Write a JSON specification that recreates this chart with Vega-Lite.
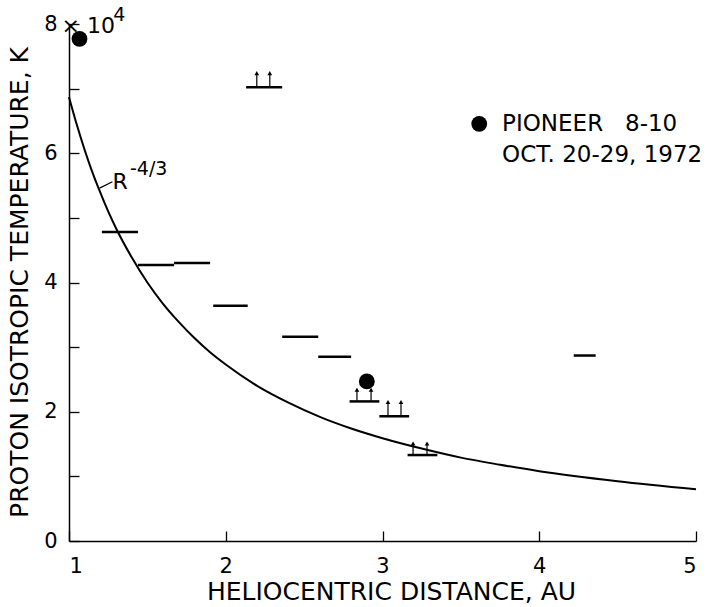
{
  "$schema": "https://vega.github.io/schema/vega-lite/v6.json",
  "width": 627,
  "height": 517,
  "autosize": {"type": "none"},
  "padding": {"left": 69, "top": 24, "right": 16, "bottom": 66},
  "background": "white",
  "config": {
    "view": {"stroke": null},
    "font": "DejaVu Sans",
    "text": {"font": "DejaVu Sans", "color": "black"},
    "axis": {
      "labelFont": "DejaVu Sans",
      "titleFont": "DejaVu Sans",
      "labelColor": "black",
      "titleColor": "black",
      "domainColor": "black",
      "tickColor": "black",
      "domainWidth": 1.5,
      "tickWidth": 1.3,
      "grid": false,
      "labelFontSize": 21,
      "titleFontSize": 25,
      "titleFontWeight": "normal"
    }
  },
  "datasets": {
    "curve": [
      {"x": 1.0, "y": 6.87}, {"x": 1.05, "y": 6.44}, {"x": 1.1, "y": 6.05}, {"x": 1.15, "y": 5.70},
      {"x": 1.2, "y": 5.39}, {"x": 1.25, "y": 5.10}, {"x": 1.3, "y": 4.84}, {"x": 1.4, "y": 4.39},
      {"x": 1.5, "y": 4.00}, {"x": 1.6, "y": 3.67}, {"x": 1.7, "y": 3.39}, {"x": 1.8, "y": 3.14},
      {"x": 1.9, "y": 2.92}, {"x": 2.0, "y": 2.73}, {"x": 2.2, "y": 2.40}, {"x": 2.4, "y": 2.14},
      {"x": 2.6, "y": 1.92}, {"x": 2.8, "y": 1.74}, {"x": 3.0, "y": 1.59}, {"x": 3.25, "y": 1.43},
      {"x": 3.5, "y": 1.29}, {"x": 3.75, "y": 1.18}, {"x": 4.0, "y": 1.08}, {"x": 4.5, "y": 0.925},
      {"x": 5.0, "y": 0.80}
    ],
    "segments": [
      {"x": 1.21, "x2": 1.44, "y": 4.78},
      {"x": 1.44, "x2": 1.67, "y": 4.27},
      {"x": 1.67, "x2": 1.90, "y": 4.30},
      {"x": 1.92, "x2": 2.14, "y": 3.64},
      {"x": 2.13, "x2": 2.36, "y": 7.02},
      {"x": 2.36, "x2": 2.59, "y": 3.16},
      {"x": 2.59, "x2": 2.80, "y": 2.85},
      {"x": 2.79, "x2": 2.98, "y": 2.16},
      {"x": 2.98, "x2": 3.17, "y": 1.93},
      {"x": 3.16, "x2": 3.35, "y": 1.33},
      {"x": 4.22, "x2": 4.36, "y": 2.87}
    ],
    "arrows": [
      {"x": 2.198, "y": 7.02, "y2": 7.24},
      {"x": 2.281, "y": 7.02, "y2": 7.24},
      {"x": 2.837, "y": 2.16, "y2": 2.34},
      {"x": 2.927, "y": 2.16, "y2": 2.34},
      {"x": 3.035, "y": 1.93, "y2": 2.15},
      {"x": 3.118, "y": 1.93, "y2": 2.15},
      {"x": 3.195, "y": 1.33, "y2": 1.51},
      {"x": 3.284, "y": 1.33, "y2": 1.51}
    ],
    "dots": [
      {"x": 1.067, "y": 7.77},
      {"x": 2.90, "y": 2.47},
      {"x": 3.617, "y": 6.455}
    ],
    "leader": [
      {"x": 1.195, "y": 5.46, "x2": 1.277, "y2": 5.56}
    ],
    "rlabel": [{"x": 1.278, "y": 5.449, "text": "R"}, {"x": 0.952, "y": 7.864, "text": "× 10"}],
    "suplabel": [{"x": 1.389, "y": 5.66, "text": "-4/3"}, {"x": 1.282, "y": 8.04, "text": "4"}],
    "legend": [
      {"x": 3.763, "y": 6.455, "text": "PIONEER\u00a0\u00a0 8-10"},
      {"x": 3.763, "y": 5.975, "text": "OCT. 20-29, 1972"}
    ]
  },
  "encoding": {
    "x": {
      "field": "x",
      "type": "quantitative",
      "scale": {"domain": [1, 5], "nice": false, "zero": false},
      "axis": {
        "title": "HELIOCENTRIC DISTANCE, AU",
        "values": [1, 2, 3, 4, 5],
        "tickSize": -10,
        "labelPadding": 24,
        "titleX": 322,
        "titleY": 58,
        "titleAlign": "center",
        "titleBaseline": "alphabetic"
      }
    },
    "y": {
      "field": "y",
      "type": "quantitative",
      "scale": {"domain": [0, 8], "nice": false, "zero": true},
      "axis": {
        "title": "PROTON ISOTROPIC TEMPERATURE, K",
        "values": [0, 1, 2, 3, 4, 5, 6, 7, 8],
        "labelExpr": "datum.value % 2 == 0 ? datum.label : ''",
        "tickSize": -10,
        "labelPadding": 22,
        "labelBaseline": "middle",
        "titleX": -42,
        "titleY": 258,
        "titleAngle": 270,
        "titleAlign": "center",
        "titleBaseline": "alphabetic"
      }
    }
  },
  "layer": [
    {
      "data": {"name": "curve"},
      "mark": {"type": "line", "color": "black", "strokeWidth": 2, "interpolate": "monotone"},
      "encoding": {}
    },
    {
      "data": {"name": "segments"},
      "mark": {"type": "rule", "color": "black", "strokeWidth": 2.5},
      "encoding": {"x2": {"field": "x2"}}
    },
    {
      "data": {"name": "arrows"},
      "mark": {"type": "rule", "color": "black", "strokeWidth": 1.2},
      "encoding": {"y2": {"field": "y2"}}
    },
    {
      "data": {"name": "arrows"},
      "mark": {"type": "point", "shape": "triangle-up", "filled": true, "color": "black", "size": 22, "opacity": 1},
      "encoding": {"y": {"field": "y2", "type": "quantitative"}}
    },
    {
      "data": {"name": "dots"},
      "mark": {"type": "point", "shape": "circle", "filled": true, "color": "black", "size": 250, "opacity": 1},
      "encoding": {}
    },
    {
      "data": {"name": "leader"},
      "mark": {"type": "rule", "color": "black", "strokeWidth": 1.2},
      "encoding": {"x2": {"field": "x2"}, "y2": {"field": "y2"}}
    },
    {
      "data": {"name": "rlabel"},
      "mark": {"type": "text", "fontSize": 22, "align": "left", "baseline": "alphabetic"},
      "encoding": {"text": {"field": "text"}}
    },
    {
      "data": {"name": "suplabel"},
      "mark": {"type": "text", "fontSize": 19, "align": "left", "baseline": "alphabetic"},
      "encoding": {"text": {"field": "text"}}
    },
    {
      "data": {"name": "legend"},
      "mark": {"type": "text", "fontSize": 23, "align": "left", "baseline": "middle"},
      "encoding": {"text": {"field": "text"}}
    }
  ]
}
